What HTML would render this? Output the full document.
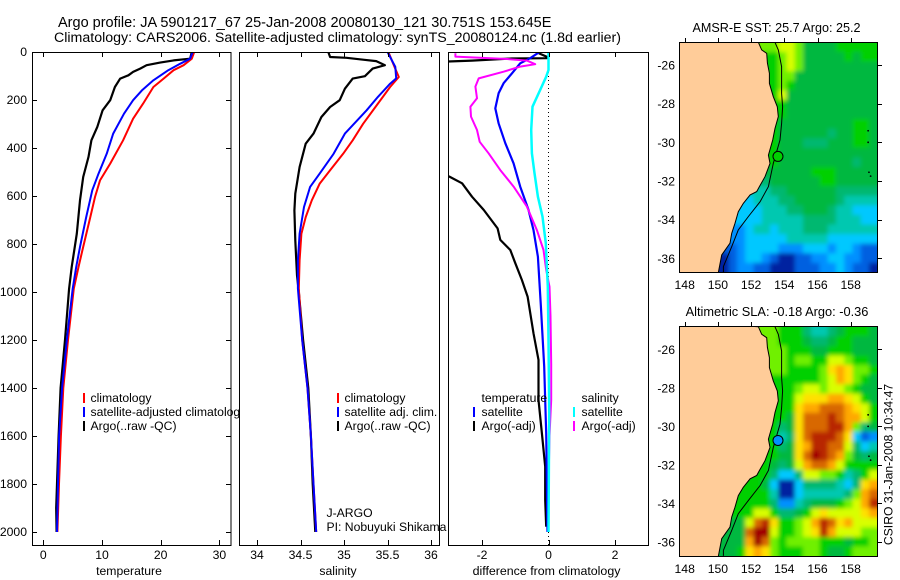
<!DOCTYPE html>
<html>
<head>
<meta charset="utf-8">
<title>Argo profile</title>
<style>
html,body{margin:0;padding:0;background:#fff;width:900px;height:580px;overflow:hidden}
svg{display:block}
text{font-family:"Liberation Sans",sans-serif;font-size:12.2px;fill:#000}
.title{font-size:14.2px}
.maptitle{font-size:12.6px}
</style>
</head>
<body>
<svg id="chart" xmlns="http://www.w3.org/2000/svg" width="900" height="580" viewBox="0 0 900 580">
<defs>
<clipPath id="clip-p1"><rect x="32" y="52" width="199" height="493"/></clipPath>
<clipPath id="clip-p2"><rect x="239" y="52" width="200" height="493"/></clipPath>
<clipPath id="clip-p3"><rect x="448" y="52" width="200" height="493"/></clipPath>
<clipPath id="clip-m1"><rect x="679" y="42" width="198" height="230"/></clipPath>
<clipPath id="clip-m2"><rect x="679" y="326" width="198" height="230"/></clipPath>
<filter id="soften" x="-5%" y="-5%" width="110%" height="110%"><feGaussianBlur stdDeviation="2"/></filter>
</defs>
<rect width="900" height="580" fill="#fff"/>
<text class="title" x="58" y="27" style="font-size:14.5px">Argo profile: JA 5901217_67 25-Jan-2008 20080130_121 30.751S 153.645E</text>
<text class="title" x="54" y="42">Climatology: CARS2006. Satellite-adjusted climatology: synTS_20080124.nc (1.8d earlier)</text>

<g id="panel1">
<rect x="32.5" y="52.5" width="198.5" height="493" fill="#fff"/>
<g id="p1-series" clip-path="url(#clip-p1)"></g>
<g id="p1-axes"></g>
<text x="129" y="575" text-anchor="middle">temperature</text>
<g>
<line x1="84" x2="84" y1="393" y2="403" stroke="#f00" stroke-width="2"/>
<text x="90.5" y="402">climatology</text>
<line x1="84" x2="84" y1="407" y2="417" stroke="#00f" stroke-width="2"/>
<text x="90.5" y="416">satellite-adjusted climatology</text>
<line x1="84" x2="84" y1="421" y2="431" stroke="#000" stroke-width="2"/>
<text x="90.5" y="430">Argo(..raw -QC)</text>
</g>
</g>

<g id="panel2">
<rect x="239.5" y="52.5" width="200" height="493" fill="#fff"/>
<g id="p2-series" clip-path="url(#clip-p2)"></g>
<g id="p2-axes"></g>
<text x="338" y="575" text-anchor="middle">salinity</text>
<g>
<line x1="338" x2="338" y1="393" y2="403" stroke="#f00" stroke-width="2"/>
<text x="344.5" y="402">climatology</text>
<line x1="338" x2="338" y1="407" y2="417" stroke="#00f" stroke-width="2"/>
<text x="344.5" y="416">satellite adj. clim.</text>
<line x1="338" x2="338" y1="421" y2="431" stroke="#000" stroke-width="2"/>
<text x="344.5" y="430">Argo(..raw -QC)</text>
</g>
<text x="326.5" y="517">J-ARGO</text>
<text x="326.5" y="531">PI: Nobuyuki Shikama</text>
</g>

<g id="panel3">
<rect x="448.5" y="52.5" width="200" height="493" fill="#fff"/>
<g id="p3-series" clip-path="url(#clip-p3)"></g>
<g id="p3-axes"></g>
<text x="546.5" y="575" text-anchor="middle" style="font-size:12.4px">difference from climatology</text>
<g>
<text x="481.5" y="402">temperature</text>
<line x1="474" x2="474" y1="407" y2="417" stroke="#00f" stroke-width="2"/>
<text x="481.5" y="416">satellite</text>
<line x1="474" x2="474" y1="421" y2="431" stroke="#000" stroke-width="2"/>
<text x="481.5" y="430">Argo(-adj)</text>
<text x="581.5" y="402">salinity</text>
<line x1="574" x2="574" y1="407" y2="417" stroke="#0ff" stroke-width="2"/>
<text x="581.5" y="416">satellite</text>
<line x1="574" x2="574" y1="421" y2="431" stroke="#f0f" stroke-width="2"/>
<text x="581.5" y="430">Argo(-adj)</text>
</g>
</g>

<g id="map1">
<text class="maptitle" x="776.5" y="32" text-anchor="middle">AMSR-E SST: 25.7 Argo: 25.2</text>
<g id="m1-body" clip-path="url(#clip-m1)"></g>
<g id="m1-axes"></g>
</g>
<g id="map2">
<text class="maptitle" x="777" y="316" text-anchor="middle" style="font-size:12.8px">Altimetric SLA: -0.18 Argo: -0.36</text>
<g id="m2-body" clip-path="url(#clip-m2)"></g>
<g id="m2-axes"></g>
</g>
<text transform="translate(892.5,464.5) rotate(-90)" text-anchor="middle">CSIRO 31-Jan-2008 10:34:47</text>
</svg>

<script>
// ---------- profile data (depth in dbar, value pairs) ----------
const tempClimDepth = [0,28,55,76,111,146,215,278,368,465,535,604,688,812,896,986,1200,1400,1600,1800,2000];
const tempClim      = [25.7,25.3,23.9,22.2,20.5,18.75,17,15.3,13.6,11.4,9.66,8.8,8,6.8,6,5.2,4.2,3.4,3,2.67,2.4];
const tempSatDepth  = [0,28,49,76,118,160,201,257,340,424,507,576,688,812,896,986,1200,1400,1600,1800,2000];
const tempSat       = [25.45,25,23.3,21.3,18.75,16.8,15.3,13.75,11.9,10.8,9.4,8.35,7.3,6.25,5.6,5,4,3.2,2.7,2.5,2.33];
const tempArgoDepth = [0,28,35,44,55,69,83,97,111,146,201,243,312,368,437,521,618,757,896,986,1200,1400,1600,1800,1900,2000];
const tempArgo      = [25.3,25,22.2,19.9,17.6,16.5,15.3,14.5,13.1,12.2,11.4,10.1,9.2,8.2,7.7,6.8,6.25,5.7,4.83,4.4,3.7,2.95,2.6,2.33,2.2,2.27];

const salClimDepth = [0,62,104,146,215,299,368,424,493,549,618,688,757,868,986,1200,1400,1600,1800,2000];
const salClim      = [35.51,35.58,35.63,35.53,35.39,35.22,35.1,34.99,34.84,34.72,34.63,34.56,34.51,34.49,34.48,34.52,34.58,34.62,34.65,34.68];
const salSatDepth  = [0,62,110,132,187,243,340,424,507,562,646,757,868,986,1200,1400,1600,1800,2000];
const salSat       = [35.5,35.59,35.6,35.53,35.39,35.26,35.01,34.88,34.72,34.61,34.54,34.49,34.47,34.47,34.52,34.58,34.62,34.65,34.68];
const salArgoDepth = [0,21,24,32,38,55,69,101,111,153,201,229,271,340,382,479,590,660,785,930,1000,1200,1400,1600,1800,2000];
const salArgo      = [34.82,34.84,35.03,35.22,35.37,35.47,35.33,35.24,35.1,35.01,34.95,34.84,34.74,34.65,34.56,34.49,34.44,34.43,34.44,34.46,34.48,34.53,34.59,34.62,34.64,34.67];

const diffTempSatDepth = [0,26,47,89,130,172,235,297,380,464,561,658,742,853,1061,1311,1589,2000];
const diffTempSat      = [-0.27,-0.55,-0.85,-1.1,-1.35,-1.5,-1.6,-1.5,-1.3,-1.05,-0.85,-0.6,-0.45,-0.32,-0.23,-0.13,-0.07,-0.03];
const diffTempArgoDepth = [0,8,20,26,27,36,42,500,519,547,603,658,735,783,825,880,950,1019,1172,1283,1450,1589,1728,1867,1978];
const diffTempArgo      = [-0.35,-0.25,-0.05,-0.05,-1.1,-2.3,-3.5,-3.5,-2.98,-2.6,-2.3,-1.95,-1.53,-1.45,-1.15,-1,-0.8,-0.63,-0.45,-0.3,-0.3,-0.2,-0.1,-0.1,-0.07];
const diffSalSatDepth = [0,75,103,158,228,325,422,505,603,686,797,978,1200,1500,2000];
const diffSalSat      = [0,0,-0.07,-0.25,-0.48,-0.52,-0.5,-0.42,-0.32,-0.18,-0.08,-0.02,0,0.02,0];
const diffSalArgoDepth = [5,19,29,36,51,61,82,110,144,193,228,269,325,374,422,492,561,644,742,825,908,978,1100,1300,1450,1600,1800,2000];
const diffSalArgo      = [-2.8,-2.8,-1.25,-0.65,-0.4,-0.85,-1.35,-2.1,-2.2,-2.15,-2.35,-2.33,-2.15,-2.07,-1.8,-1.45,-1.05,-0.65,-0.35,-0.15,-0.07,0.03,0.06,0.08,0.08,0.03,0,0];

// ---------- tick labels ----------
const depthTicks = [0,200,400,600,800,1000,1200,1400,1600,1800,2000];
const tempTicks = [0,10,20,30];
const salTicks = [34,34.5,35,35.5,36];
const diffTicks = [-2,0,2];
const lonTicks = [148,150,152,154,156,158];
const latTicks = [26,28,30,32,34,36];

// ---------- map data: coastline and 200 m isobath (lon, lat), islands, float ----------
const coastLon = [152.44,152.64,152.94,152.98,153.1,153.1,153.34,153.58,153.64,153.44,153.3,153.04,153.14,152.84,152.5,152.34,151.94,151.53,151.23,151.03,150.83,150.73,150.23,150.03];
const coastLat = [24.83,25.22,25.4,25.9,26.43,26.95,27.64,28.16,28.67,29.28,29.88,30.66,31.09,31.78,32.29,32.55,32.72,33.16,33.59,34.19,34.71,35.22,35.83,36.72];
const isoLon = [153.44,153.64,153.84,153.84,153.9,153.84,153.74,153.34,153.04,152.54,151.84,151.23,150.83,150.33,150.33];
const isoLat = [24.83,25.22,26.09,27.47,28.16,29.02,29.88,31.09,32.29,33.07,33.84,34.53,35.4,36.43,36.72];
const islandLon = [159.05,159.05,159.1,159.2];
const islandLat = [29.4,30,31.55,31.75];
const floatLon = 153.62;
const floatLat = 30.73;
const sstFloatLevel = 7;
const slaFloatLevel = 2;

// Colour levels for both maps (0 = coldest/lowest, 14 = warmest/highest)
const levelColors = ['#0020a0','#0060e0','#0090ff','#00c8ff','#00c8b0','#00b870','#00b840','#00d000','#70f000','#d8ff00','#ffe000','#ffa800','#d86800','#b82800','#a00000'];

// Gridded SST, 24 columns (lon 147.67 to 159.6) by 24 rows (lat 24.83 to 36.73)
const sstGrid = [
[8,8,8,8,8,8,8,8,8,8,8,8,9,9,8,6,6,6,6,7,7,7,7,7],
[7,7,7,7,7,7,7,7,7,7,7,7,8,9,8,6,6,6,6,6,7,6,7,7],
[7,7,7,7,7,7,7,7,7,7,7,7,8,9,8,6,6,6,6,6,6,6,6,6],
[7,7,7,7,7,7,7,7,7,7,7,7,8,8,6,6,6,6,6,6,6,6,6,6],
[7,7,7,7,7,7,7,7,7,7,7,7,8,7,6,6,6,6,6,6,6,6,6,6],
[7,7,7,7,7,7,7,7,7,7,7,7,9,6,6,6,6,6,6,6,6,6,6,6],
[7,7,7,7,7,7,7,7,7,7,7,7,7,6,6,6,6,6,6,6,6,6,6,6],
[7,7,7,7,7,7,7,7,7,7,7,7,7,6,6,6,6,6,6,6,6,6,6,6],
[7,7,7,7,7,7,7,7,7,7,7,7,6,6,6,6,6,6,6,6,6,7,7,6],
[7,7,7,7,7,7,7,7,7,7,7,7,6,6,6,6,6,6,5,6,6,7,7,6],
[7,7,7,7,7,7,7,7,7,7,7,7,6,6,6,5,5,5,6,6,6,7,7,6],
[7,7,7,7,7,7,7,7,7,7,7,7,6,6,6,6,6,6,6,6,6,6,6,6],
[7,7,7,7,7,7,7,7,7,7,7,7,6,6,6,6,6,6,6,6,6,5,6,6],
[7,7,7,7,7,7,7,7,7,7,6,6,6,6,6,6,7,7,7,6,6,6,6,6],
[5,5,5,5,5,5,5,5,5,5,5,6,6,6,6,6,6,7,7,6,6,6,6,6],
[4,4,4,4,4,4,4,4,4,4,4,5,5,6,6,6,6,6,6,5,5,5,5,5],
[3,3,3,3,3,3,3,3,3,4,4,4,5,5,6,6,6,6,6,5,4,4,4,4],
[3,3,3,3,3,3,3,3,3,3,4,4,4,5,5,6,6,6,5,4,4,3,3,3],
[3,3,3,3,3,3,3,3,3,3,4,4,4,4,4,5,5,5,5,4,4,4,3,3],
[2,2,2,2,2,2,2,2,3,4,4,3,4,4,4,5,5,5,4,4,4,4,4,4],
[2,2,2,2,2,2,2,2,3,3,3,3,3,4,4,4,4,4,3,3,3,3,3,3],
[1,1,1,1,1,1,1,2,3,3,3,3,2,2,2,3,3,3,2,3,3,2,1,1],
[0,0,0,0,0,0,1,2,3,3,2,1,0,0,1,1,2,2,3,3,2,2,1,1],
[0,0,0,0,0,0,1,2,2,1,1,0,0,0,1,1,1,2,2,3,2,1,1,0]
];

// Gridded sea level anomaly levels, same grid as sstGrid
const slaGrid = [
[8,8,8,8,8,8,8,8,8,8,8,8,7,7,7,5,4,4,5,6,7,7,7,6],
[8,8,8,8,8,8,8,8,8,8,8,8,7,7,7,6,5,5,6,7,7,6,6,6],
[8,8,8,8,8,8,8,8,8,8,8,8,8,7,7,7,6,6,7,7,7,6,6,6],
[8,8,8,8,8,8,8,8,8,8,8,8,8,7,8,8,7,7,9,9,8,7,7,6],
[8,8,8,8,8,8,8,8,8,8,8,8,8,7,7,7,7,8,10,11,10,8,8,7],
[7,7,7,7,7,7,7,7,7,7,7,7,7,7,7,7,7,8,9,11,10,8,7,6],
[7,7,7,7,7,7,7,7,7,7,7,7,7,7,8,9,9,8,9,9,8,7,6,6],
[7,7,7,7,7,7,7,7,7,7,7,7,7,7,9,10,10,10,11,11,10,9,7,6],
[7,7,7,7,7,7,7,7,7,7,7,7,7,7,10,11,11,12,12,12,11,10,9,7],
[7,7,7,7,7,7,7,7,7,7,7,7,7,6,10,12,12,12,13,12,11,11,9,7],
[7,7,7,7,7,7,7,7,7,7,7,7,5,6,10,12,12,12,13,13,11,8,5,6],
[7,7,7,7,7,7,7,7,7,7,7,7,4,5,10,12,13,13,13,12,10,3,1,2],
[7,7,7,7,7,7,7,7,7,7,7,7,5,6,10,11,13,13,12,12,9,5,3,4],
[7,7,7,7,7,7,7,7,7,7,7,7,6,6,10,12,14,13,12,11,8,6,5,6],
[7,7,7,7,7,7,7,7,7,7,7,6,5,6,9,11,12,12,11,9,7,7,7,7],
[7,7,7,7,7,7,7,7,7,7,7,5,3,3,5,9,9,8,8,7,4,5,7,9],
[7,7,7,7,7,7,7,7,7,7,6,3,0,0,3,5,5,5,5,4,3,5,10,11],
[7,7,7,7,7,7,7,7,7,7,7,4,0,0,3,4,4,4,4,4,5,8,11,12],
[7,7,7,7,7,7,7,7,7,7,7,5,2,2,4,5,6,6,6,7,8,9,11,13],
[7,7,7,7,7,7,7,7,7,9,9,7,5,5,6,7,9,10,9,9,9,9,10,11],
[6,6,6,6,6,6,6,6,9,12,13,10,7,7,8,9,11,13,12,10,11,9,9,9],
[6,6,6,6,6,6,6,6,12,14,14,9,7,7,8,9,10,13,11,9,9,9,8,8],
[6,6,6,6,6,6,6,6,11,14,12,8,7,8,8,8,8,7,7,7,6,7,7,8],
[6,6,6,6,6,6,6,7,10,11,10,8,7,7,7,8,8,7,6,6,7,8,8,8]
];

// ---------- scales ----------
const SVGNS = 'http://www.w3.org/2000/svg';
function yDepth(d){ return 52 + d * 0.24; }
function xTemp(v){ return 43.3 + v * 5.87; }
function xSal(v){ return 257 + (v - 34) * 87; }
function xDiff(v){ return 548.5 + v * 33.25; }
function xLon(lon){ return 684.7 + (lon - 148) * 16.6; }
function yLatA(lat){ return 65 + (lat - 26) * 19.33; }
function yLatB(lat){ return 349.3 + (lat - 26) * 19.27; }

function svgEl(tag, parent, name){
  const el = document.createElementNS(SVGNS, tag);
  
  
  parent.appendChild(el);
  return el;
}
function profile(parent, name, depths, values, xFn, color, width){
  const el = svgEl('polyline', parent, name);
  el.setAttribute('points', depths.map((d, i) => xFn(values[i]).toFixed(1) + ',' + yDepth(d).toFixed(1)).join(' '));
  el.setAttribute('fill', 'none');
  el.setAttribute('stroke', color);
  el.setAttribute('stroke-width', width);
  el.setAttribute('stroke-linejoin', 'round');
}
function seg(parent, name, x1, y1, x2, y2){
  const el = svgEl('line', parent, name);
  el.setAttribute('x1', x1); el.setAttribute('y1', y1);
  el.setAttribute('x2', x2); el.setAttribute('y2', y2);
  el.setAttribute('stroke', '#000');
  el.setAttribute('stroke-width', 1);
  return el;
}
function label(parent, name, x, y, anchor, str){
  const el = svgEl('text', parent, name);
  el.setAttribute('x', x); el.setAttribute('y', y);
  el.setAttribute('text-anchor', anchor);
  el.textContent = str;
}
function frame(parent, name, x, y, w, h){
  const el = svgEl('rect', parent, name);
  el.setAttribute('x', x); el.setAttribute('y', y);
  el.setAttribute('width', w); el.setAttribute('height', h);
  el.setAttribute('fill', 'none');
  el.setAttribute('stroke', '#000');
  el.setAttribute('stroke-width', 1);
}
function xTicks(parent, ticks, xFn){
  ticks.forEach(t => {
    const x = Math.round(xFn(t)) + 0.5;
    seg(parent, 'x-tick-top', x, 52, x, 57);
    seg(parent, 'x-tick-bottom', x, 540, x, 545);
    label(parent, 'x-tick-label', xFn(t), 559, 'middle', String(t));
  });
}

// ---------- profile panels ----------
const p1 = document.getElementById('p1-series');
profile(p1, 'temperature-argo-line', tempArgoDepth, tempArgo, xTemp, '#000', 2.2);
profile(p1, 'temperature-climatology-line', tempClimDepth, tempClim, xTemp, '#f00', 2);
profile(p1, 'temperature-satellite-line', tempSatDepth, tempSat, xTemp, '#00f', 2);
const p1a = document.getElementById('p1-axes');
frame(p1a, 'temperature-frame', 32.5, 52.5, 198.5, 493);
xTicks(p1a, tempTicks, xTemp);
depthTicks.forEach(d => {
  const y = Math.round(yDepth(d)) + 0.5;
  if (d > 0) seg(p1a, 'depth-tick-left', 32, y, 37, y);
  if (d > 0) seg(p1a, 'depth-tick-right', 226, y, 231, y);
  label(p1a, 'depth-tick-label', 27, yDepth(d) + 4, 'end', String(d));
});

const p2 = document.getElementById('p2-series');
profile(p2, 'salinity-argo-line', salArgoDepth, salArgo, xSal, '#000', 2.2);
profile(p2, 'salinity-climatology-line', salClimDepth, salClim, xSal, '#f00', 2);
profile(p2, 'salinity-satellite-line', salSatDepth, salSat, xSal, '#00f', 2);
const p2a = document.getElementById('p2-axes');
frame(p2a, 'salinity-frame', 239.5, 52.5, 200, 493);
xTicks(p2a, salTicks, xSal);

const p3 = document.getElementById('p3-series');
const zero = svgEl('line', p3, 'zero-reference-line');
zero.setAttribute('x1', xDiff(0)); zero.setAttribute('x2', xDiff(0));
zero.setAttribute('y1', 52); zero.setAttribute('y2', 545);
zero.setAttribute('stroke', '#000');
zero.setAttribute('stroke-dasharray', '1 3');
profile(p3, 'difference-temp-argo-line', diffTempArgoDepth, diffTempArgo, xDiff, '#000', 2.2);
profile(p3, 'difference-temp-satellite-line', diffTempSatDepth, diffTempSat, xDiff, '#00f', 2.2);
profile(p3, 'difference-sal-argo-line', diffSalArgoDepth, diffSalArgo, xDiff, '#f0f', 2);
profile(p3, 'difference-sal-satellite-line', diffSalSatDepth, diffSalSat, xDiff, '#0ff', 2.5);
const p3a = document.getElementById('p3-axes');
frame(p3a, 'difference-frame', 448.5, 52.5, 200, 493);
xTicks(p3a, diffTicks, xDiff);

// ---------- maps ----------
function drawMap(bodyId, axesId, prefix, grid, yLat, top, bottom, floatLevel){
  const body = document.getElementById(bodyId);
  const cells = svgEl('g', body, prefix + '-heatmap');
  cells.setAttribute('filter', 'url(#soften)');
  const lon0 = 147.67, dLon = 11.93 / 24, lat0 = 24.83, dLat = 11.9 / 24;
  grid.forEach((row, r) => row.forEach((v, c) => {
    const cell = svgEl('rect', cells, prefix + '-cell');
    const x0 = xLon(lon0 + c * dLon), y0 = yLat(lat0 + r * dLat);
    cell.setAttribute('x', x0 - (c === 0 ? 12 : 0));
    cell.setAttribute('y', y0 - (r === 0 ? 12 : 0));
    cell.setAttribute('width', xLon(lon0 + (c + 1) * dLon) - x0 + 0.5 + (c === 0 ? 12 : 0) + (c === 23 ? 12 : 0));
    cell.setAttribute('height', yLat(lat0 + (r + 1) * dLat) - y0 + 0.5 + (r === 0 ? 12 : 0) + (r === 23 ? 12 : 0));
    cell.setAttribute('fill', levelColors[v]);
  }));
  const land = svgEl('polygon', body, prefix + '-land');
  const coastPts = coastLon.map((lon, i) => xLon(lon).toFixed(1) + ',' + yLat(coastLat[i]).toFixed(1));
  land.setAttribute('points', '670,' + (bottom + 5) + ' 670,' + (top - 5) + ' ' + coastPts.join(' ') + ' ' + xLon(coastLon[coastLon.length - 1]).toFixed(1) + ',' + (bottom + 5));
  land.setAttribute('fill', '#ffcc99');
  land.setAttribute('stroke', '#000');
  land.setAttribute('stroke-width', 1);
  const iso = svgEl('polyline', body, prefix + '-isobath');
  iso.setAttribute('points', isoLon.map((lon, i) => xLon(lon).toFixed(1) + ',' + yLat(isoLat[i]).toFixed(1)).join(' '));
  iso.setAttribute('fill', 'none');
  iso.setAttribute('stroke', '#000');
  iso.setAttribute('stroke-width', 1);
  islandLon.forEach((lon, i) => {
    const isl = svgEl('circle', body, prefix + '-island');
    isl.setAttribute('cx', xLon(lon));
    isl.setAttribute('cy', yLat(islandLat[i]));
    isl.setAttribute('r', 0.9);
    isl.setAttribute('fill', '#000');
  });
  const marker = svgEl('circle', body, prefix + '-float-marker');
  marker.setAttribute('cx', xLon(floatLon));
  marker.setAttribute('cy', yLat(floatLat));
  marker.setAttribute('r', 5);
  marker.setAttribute('fill', levelColors[floatLevel]);
  marker.setAttribute('stroke', '#000');
  marker.setAttribute('stroke-width', 1);

  const axes = document.getElementById(axesId);
  frame(axes, prefix + '-frame', 679.5, top + 0.5, 198, bottom - top);
  lonTicks.forEach(t => {
    const x = Math.round(xLon(t)) + 0.5;
    seg(axes, prefix + '-lon-tick', x, top - 4, x, top);
    label(axes, prefix + '-lon-label', xLon(t), bottom + 17, 'middle', String(t));
  });
  latTicks.forEach(t => {
    const y = Math.round(yLat(t)) + 0.5;
    seg(axes, prefix + '-lat-tick', 878, y, 882, y);
    label(axes, prefix + '-lat-label', 675, yLat(t) + 4.5, 'end', '-' + t);
  });
}
drawMap('m1-body', 'm1-axes', 'sst-map', sstGrid, yLatA, 42, 272, sstFloatLevel);
drawMap('m2-body', 'm2-axes', 'sla-map', slaGrid, yLatB, 326, 556, slaFloatLevel);
</script>
</body>
</html>
